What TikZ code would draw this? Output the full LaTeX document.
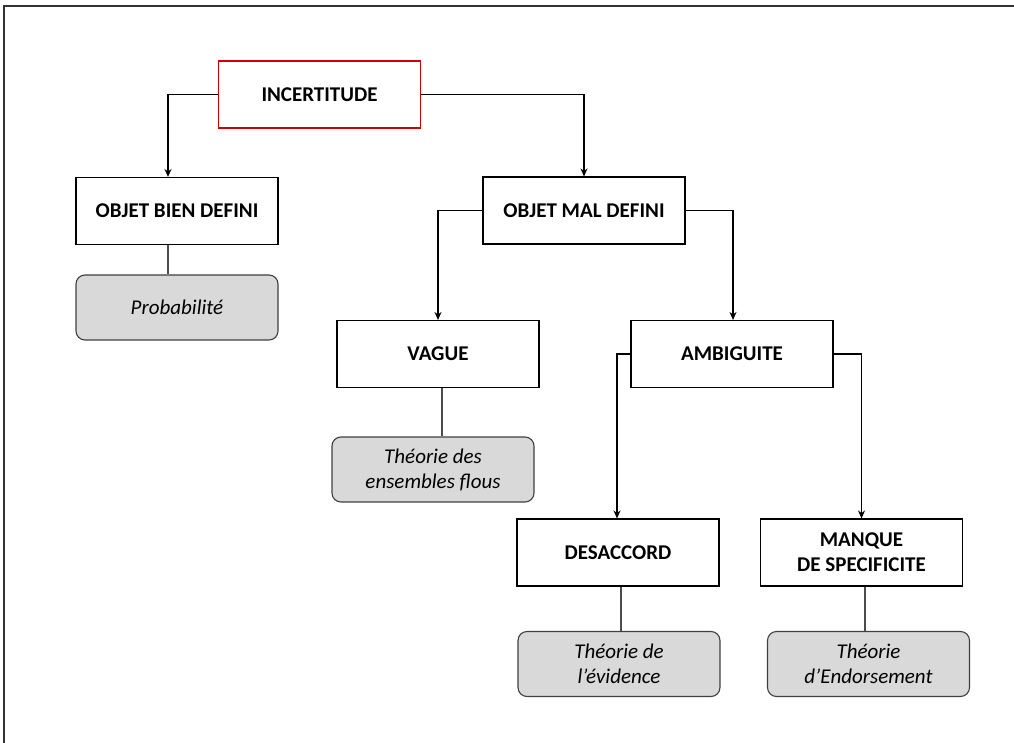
\documentclass[tikz,border=0pt]{standalone}
\usepackage{fontspec}
\setmainfont{Carlito}
\usetikzlibrary{arrows.meta,calc}
\begin{document}
\begin{tikzpicture}[x=1pt,y=-1pt,
  box/.style={draw=black,line width=1.1pt,minimum width=202pt,minimum height=67pt,font=\fontsize{21}{25}\selectfont\bfseries,align=center,inner sep=0pt},
  redbox/.style={box,draw=red!80!black},
  leaf/.style={draw=black!75,line width=1.1pt,fill=black!15,rounded corners=9pt,minimum width=202pt,minimum height=65pt,font=\fontsize{21}{25}\selectfont\itshape,align=center,inner sep=0pt},
  arr/.style={-{Stealth[length=8pt,width=7pt]},line width=1.2pt,black},
  plain/.style={line width=1.2pt,black!70}]
\useasboundingbox (0,0) rectangle (1014,743);
\draw[line width=1.2pt,black!80] (4,743) -- (4,6) -- (1014,6);
\node[redbox] (inc) at (319.5,94.5) {INCERTITUDE};
\node[box] (obd) at (177,211) {OBJET BIEN DEFINI};
\node[leaf] (prob) at (177,307.5) {Probabilité};
\node[box] (omd) at (584,210.5) {OBJET MAL DEFINI};
\node[box] (vag) at (438,354) {VAGUE};
\node[leaf] (flous) at (433,469.5) {Théorie des\\ensembles flous};
\node[box] (amb) at (732,354) {AMBIGUITE};
\node[box] (des) at (618,552.5) {DESACCORD};
\node[box] (man) at (861.5,552.5) {MANQUE\\DE SPECIFICITE};
\node[leaf] (evi) at (619,664) {Théorie de\\l’évidence};
\node[leaf] (end) at (868.5,664) {Théorie\\d’Endorsement};
\draw[arr] (inc.west) -| ([xshift=-9pt]obd.north);
\draw[arr] (inc.east) -| (omd.north);
\draw[arr] (omd.west) -| (vag.north);
\draw[arr] (omd.east) -| ([xshift=1pt]amb.north);
\draw[arr] (amb.west) -| ([xshift=-1pt]des.north);
\draw[arr] (amb.east) -| (man.north);
\draw[plain] ([xshift=-9pt]obd.south) -- ([xshift=-9pt]obd.south |- prob.north);
\draw[plain] ([xshift=4pt]vag.south) -- ([xshift=4pt]vag.south |- flous.north);
\draw[plain] ([xshift=3pt]des.south) -- ([xshift=3pt]des.south |- evi.north);
\draw[plain] ([xshift=3.5pt]man.south) -- ([xshift=3.5pt]man.south |- end.north);
\end{tikzpicture}
\end{document}
